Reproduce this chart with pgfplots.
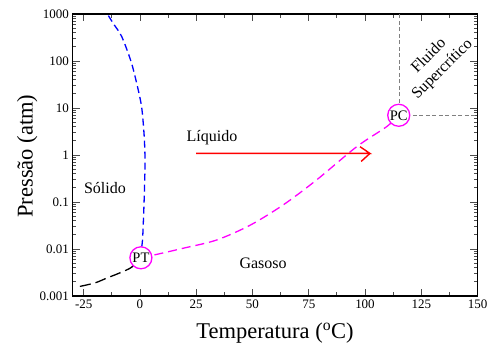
\documentclass[border=0pt]{standalone}
\usepackage{pgfplots}
\pgfplotsset{compat=1.18}
\usepackage{fontspec}
\setmainfont{Liberation Serif}
\definecolor{mag}{RGB}{255,0,255}
\definecolor{rd}{RGB}{255,0,0}
\definecolor{bl}{RGB}{0,0,255}
\begin{document}
\begin{tikzpicture}
\useasboundingbox (-72.5pt,-51pt) rectangle (418.5pt,296pt);
\begin{axis}[
  scale only axis, width=405pt, height=282pt,
  xmin=-30, xmax=150, ymode=log, ymin=0.001, ymax=1000,
  xtick={-25,0,25,50,75,100,125,150},
  xticklabels={-25,0,25,50,75,100,125,150},
  minor x tick num=1,
  ytick={0.001,0.01,0.1,1,10,100,1000},
  yticklabels={0.001,0.01,0.1,1,10,100,1000},
  tick label style={font=\fontsize{13}{15}\selectfont},
  /pgf/number format/assume math mode=true,
  major tick length=7pt, minor tick length=4pt,
  tick style={line width=0.8pt, black!70},
  axis line style={line width=1.6pt},
  xlabel={Temperatura ($^{\mathrm{o}}$C)},
  ylabel={Pressão (atm)},
  label style={font=\fontsize{22.5}{26}\selectfont},
  xlabel style={at={(axis description cs:0.5,-0.131)}, anchor=center},
  ylabel style={at={(axis description cs:-0.112,0.496)}, anchor=center, rotate=0},
  clip=false,
]
% gray critical lines
\addplot[gray, line width=0.8pt, dash pattern=on 4pt off 2.5pt] coordinates {(115.5,6.9) (115.5,1000)};
\addplot[gray, line width=0.8pt, dash pattern=on 4pt off 2.5pt] coordinates {(115.5,6.9) (150,6.9)};
% sublimation (black)
\addplot[black, line width=1.3pt, dash pattern=on 11pt off 5pt, smooth] coordinates {
(-26.7,0.0016) (-20,0.0019) (-14.8,0.0024) (-9,0.0031) (-3.7,0.0041) (0.3,0.0066)};
% melting (blue)
\addplot[draw=bl, line width=1.3pt, dash pattern=on 7pt off 4pt, smooth] coordinates {
(0.3,0.0066) (0.7,0.0104) (1.2,0.018) (1.8,0.095) (2.2,0.48) (2.2,1) (1.8,2.8) (0.7,10.7) (-1.5,34) (-4,98) (-8.1,329) (-11.9,631) (-14.5,1000)};
% vaporization (magenta)
\addplot[draw=mag, line width=1.3pt, dash pattern=on 9pt off 5pt, smooth] coordinates {
(0.3,0.0066) (5.9,0.0074) (19.3,0.0104) (34,0.0155) (48.9,0.032) (63.7,0.087) (78.5,0.295) (96.3,1.5) (109.6,4.0) (115,7.0)};
% arrow: barb top, tip, shaft start; then barb bottom
\addplot[draw=rd, line width=1.4pt, line join=miter] coordinates {(25,1.08) (102.2,1.08) (97.8,1.50)};
\addplot[draw=rd, line width=1.4pt] coordinates {(102.2,1.08) (98.3,0.73)};
% triple and critical points
\addplot[only marks, mark=*, mark size=11pt, mark options={draw=mag, fill=white, line width=1.3pt},
  nodes near coords, point meta=explicit symbolic,
  every node near coord/.style={anchor=center, black, font=\fontsize{14.5}{16}\selectfont}]
  coordinates {(0.4,0.0065)[PT] (115,7.0)[PC]};
% region labels
\node[font=\fontsize{16}{18}\selectfont] at (axis cs:32,2.3) {Líquido};
\node[font=\fontsize{16}{18}\selectfont] at (axis cs:-15.6,0.195) {Sólido};
\node[font=\fontsize{16}{18}\selectfont] at (axis cs:54.7,0.005) {Gasoso};
\node[font=\fontsize{16}{19}\selectfont, rotate=45, align=center] at (axis cs:131.5,92) {Fluido\\Supercrítico};
\end{axis}
\end{tikzpicture}
\end{document}
